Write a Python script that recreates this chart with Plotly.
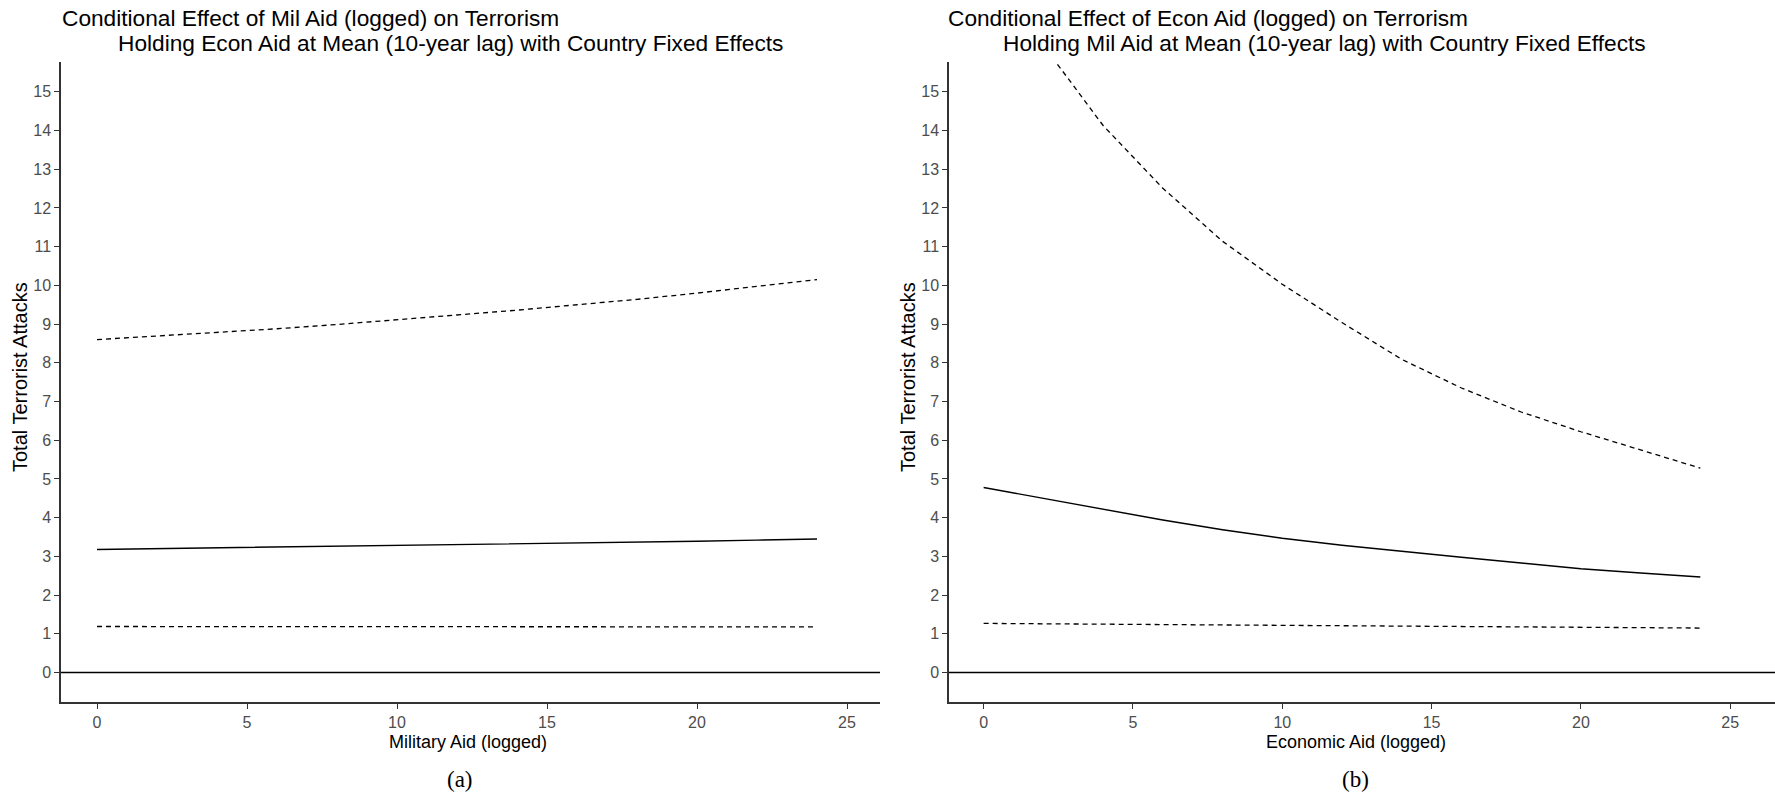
import plotly.graph_objects as go

# ---------------- data ----------------
mil_x = [0, 2, 4, 6, 8, 10, 12, 14, 16, 18, 20, 22, 24]
mil_fit = [3.18, 3.20, 3.22, 3.24, 3.26, 3.28, 3.30, 3.32, 3.34, 3.37, 3.39, 3.42, 3.45]
mil_upper = [8.60, 8.69, 8.78, 8.88, 8.99, 9.11, 9.23, 9.36, 9.50, 9.64, 9.80, 9.97, 10.15]
mil_lower = [1.19, 1.19, 1.19, 1.19, 1.19, 1.19, 1.19, 1.19, 1.19, 1.18, 1.18, 1.18, 1.18]

econ_x = [0, 2, 4, 6, 8, 10, 12, 14, 16, 18, 20, 22, 24]
econ_fit = [4.78, 4.50, 4.22, 3.94, 3.69, 3.47, 3.29, 3.13, 2.98, 2.83, 2.68, 2.57, 2.47]
econ_upper = [18.9, 16.2, 14.13, 12.51, 11.14, 10.03, 9.04, 8.09, 7.35, 6.73, 6.22, 5.74, 5.28]
econ_lower = [1.27, 1.26, 1.25, 1.24, 1.23, 1.22, 1.21, 1.20, 1.19, 1.18, 1.17, 1.16, 1.15]

y_ticks = list(range(0, 16))
x_ticks = [0, 5, 10, 15, 20, 25]
y_range = [-0.76, 15.77]
x_range_left = [-1.2, 26.1]
x_range_right = [-1.16, 26.5]

titles_a = ["Conditional Effect of Mil Aid (logged) on Terrorism",
            "Holding Econ Aid at Mean (10-year lag) with Country Fixed Effects"]
titles_b = ["Conditional Effect of Econ Aid (logged) on Terrorism",
            "Holding Mil Aid at Mean (10-year lag) with Country Fixed Effects"]
xlab_a = "Military Aid (logged)"
xlab_b = "Economic Aid (logged)"
ylab = "Total Terrorist Attacks"

# ---------------- figure ----------------
W, H = 1775, 792
FONT = "Liberation Sans, Arial, sans-serif"
SERIF = "Liberation Serif, Times New Roman, serif"

def px_x(p):
    return p / W

def px_y(p):
    return 1 - p / H

fig = go.Figure()

solid = dict(color="black", width=1.4)
dashed = dict(color="black", width=1.3, dash="5px,4px")

for xs, fit, up, lo, xa, ya in [
    (mil_x, mil_fit, mil_upper, mil_lower, "x", "y"),
    (econ_x, econ_fit, econ_upper, econ_lower, "x2", "y2"),
]:
    fig.add_trace(go.Scatter(x=xs, y=up, mode="lines", line=dashed, xaxis=xa, yaxis=ya,
                             showlegend=False, hoverinfo="skip"))
    fig.add_trace(go.Scatter(x=xs, y=fit, mode="lines", line=solid, xaxis=xa, yaxis=ya,
                             showlegend=False, hoverinfo="skip"))
    fig.add_trace(go.Scatter(x=xs, y=lo, mode="lines", line=dashed, xaxis=xa, yaxis=ya,
                             showlegend=False, hoverinfo="skip"))

plot_top, plot_bottom = 62, 702
ydom = [px_y(plot_bottom), px_y(plot_top)]

axis_common = dict(
    showgrid=False, zeroline=False, showline=True, linecolor="#333333", linewidth=1.5,
    ticks="outside", ticklen=5, tickcolor="#333333", tickwidth=1.2,
    tickfont=dict(family=FONT, size=16, color="#4D4D4D"),
    mirror=False,
)

fig.update_layout(
    width=W, height=H,
    margin=dict(l=0, r=0, t=0, b=0),
    paper_bgcolor="white", plot_bgcolor="white",
    xaxis=dict(domain=[px_x(61), px_x(880)], range=x_range_left, tickvals=x_ticks,
               anchor="y", **axis_common),
    yaxis=dict(domain=ydom, range=y_range, tickvals=y_ticks, anchor="x", **axis_common),
    xaxis2=dict(domain=[px_x(949), 1.0], range=x_range_right, tickvals=x_ticks,
                anchor="y2", **axis_common),
    yaxis2=dict(domain=ydom, range=y_range, tickvals=y_ticks, anchor="x2", **axis_common),
)

# zero reference lines
for xr, yr in [("x domain", "y"), ("x2 domain", "y2")]:
    fig.add_shape(type="line", xref=xr, yref=yr, x0=0, x1=1, y0=0, y1=0,
                  line=dict(color="black", width=1.4))

anns = []
def ann(text, x, y, size, family=FONT, color="black", xanchor="left", angle=0):
    anns.append(dict(text=text, x=px_x(x), y=px_y(y), xref="paper", yref="paper",
                     xanchor=xanchor, yanchor="middle", showarrow=False, textangle=angle,
                     font=dict(family=family, size=size, color=color)))

# titles
ann(titles_a[0], 60, 18, 22.7)
ann(titles_a[1], 116, 43, 22.7)
ann(titles_b[0], 946, 18, 22.7)
ann(titles_b[1], 1001, 43, 22.7)

# axis titles
ann(xlab_a, 468, 742, 18, xanchor="center")
ann(xlab_b, 1356, 742, 18, xanchor="center")
ann(ylab, 20, 377, 20, xanchor="center", angle=-90)
ann(ylab, 908, 377, 20, xanchor="center", angle=-90)

# panel labels
ann("(a)", 460, 779, 23, family=SERIF, xanchor="center")
ann("(b)", 1355, 779, 23, family=SERIF, xanchor="center")

fig.update_layout(annotations=anns)

fig.write_html("out.html")
